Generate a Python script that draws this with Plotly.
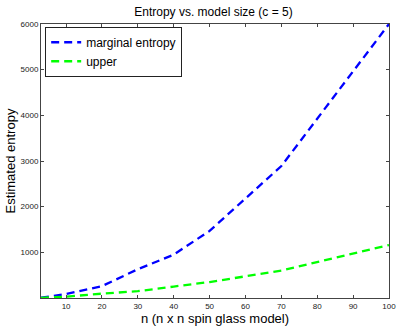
import plotly.graph_objects as go

n_vals = [3, 10, 20, 30, 40, 50, 70, 100]
marginal_entropy = [5, 90, 260, 630, 950, 1470, 2890, 6000]
upper = [2, 30, 95, 150, 250, 350, 600, 1160]

x_ticks = [10, 20, 30, 40, 50, 60, 70, 80, 90, 100]
y_ticks = [1000, 2000, 3000, 4000, 5000, 6000]

fig = go.Figure()
fig.add_trace(go.Scatter(x=n_vals, y=marginal_entropy, mode="lines", name="marginal entropy",
                         line=dict(color="#0000FF", width=2.3, dash="8px,5px")))
fig.add_trace(go.Scatter(x=n_vals, y=upper, mode="lines", name="upper",
                         line=dict(color="#00FF00", width=2.3, dash="8px,5px")))

axis_common = dict(showgrid=False, zeroline=False, showline=True, linecolor="#444", linewidth=1,
                   mirror="ticks", ticks="inside", ticklen=3, tickcolor="#444", automargin=False,
                   tickfont=dict(size=8, color="#222"))
fig.update_layout(
    width=399, height=326,
    margin=dict(l=41, r=10, t=24, b=28),
    paper_bgcolor="white", plot_bgcolor="white",
    font=dict(family="Liberation Sans, Arial, sans-serif", color="black"),
    title=dict(text="Entropy vs. model size (c = 5)", x=0.535, xanchor="center", y=0.963, yanchor="middle",
               font=dict(size=12)),
    xaxis=dict(range=[3, 100], tickvals=x_ticks,
               title=dict(text="n (n x n spin glass model)", font=dict(size=13), standoff=0), **axis_common),
    yaxis=dict(range=[0, 6000], tickvals=y_ticks,
               title=dict(text="Estimated entropy", font=dict(size=13), standoff=2), **axis_common),
    legend=dict(x=0.012, y=0.99, xanchor="left", yanchor="top", bgcolor="white",
                bordercolor="#222", borderwidth=1, font=dict(size=12),
                tracegroupgap=0, itemwidth=30),
    showlegend=True,
)

fig.write_html("out.html", config={"displayModeBar": False},
               post_script="document.body.style.margin='0';document.body.style.overflow='hidden';")
